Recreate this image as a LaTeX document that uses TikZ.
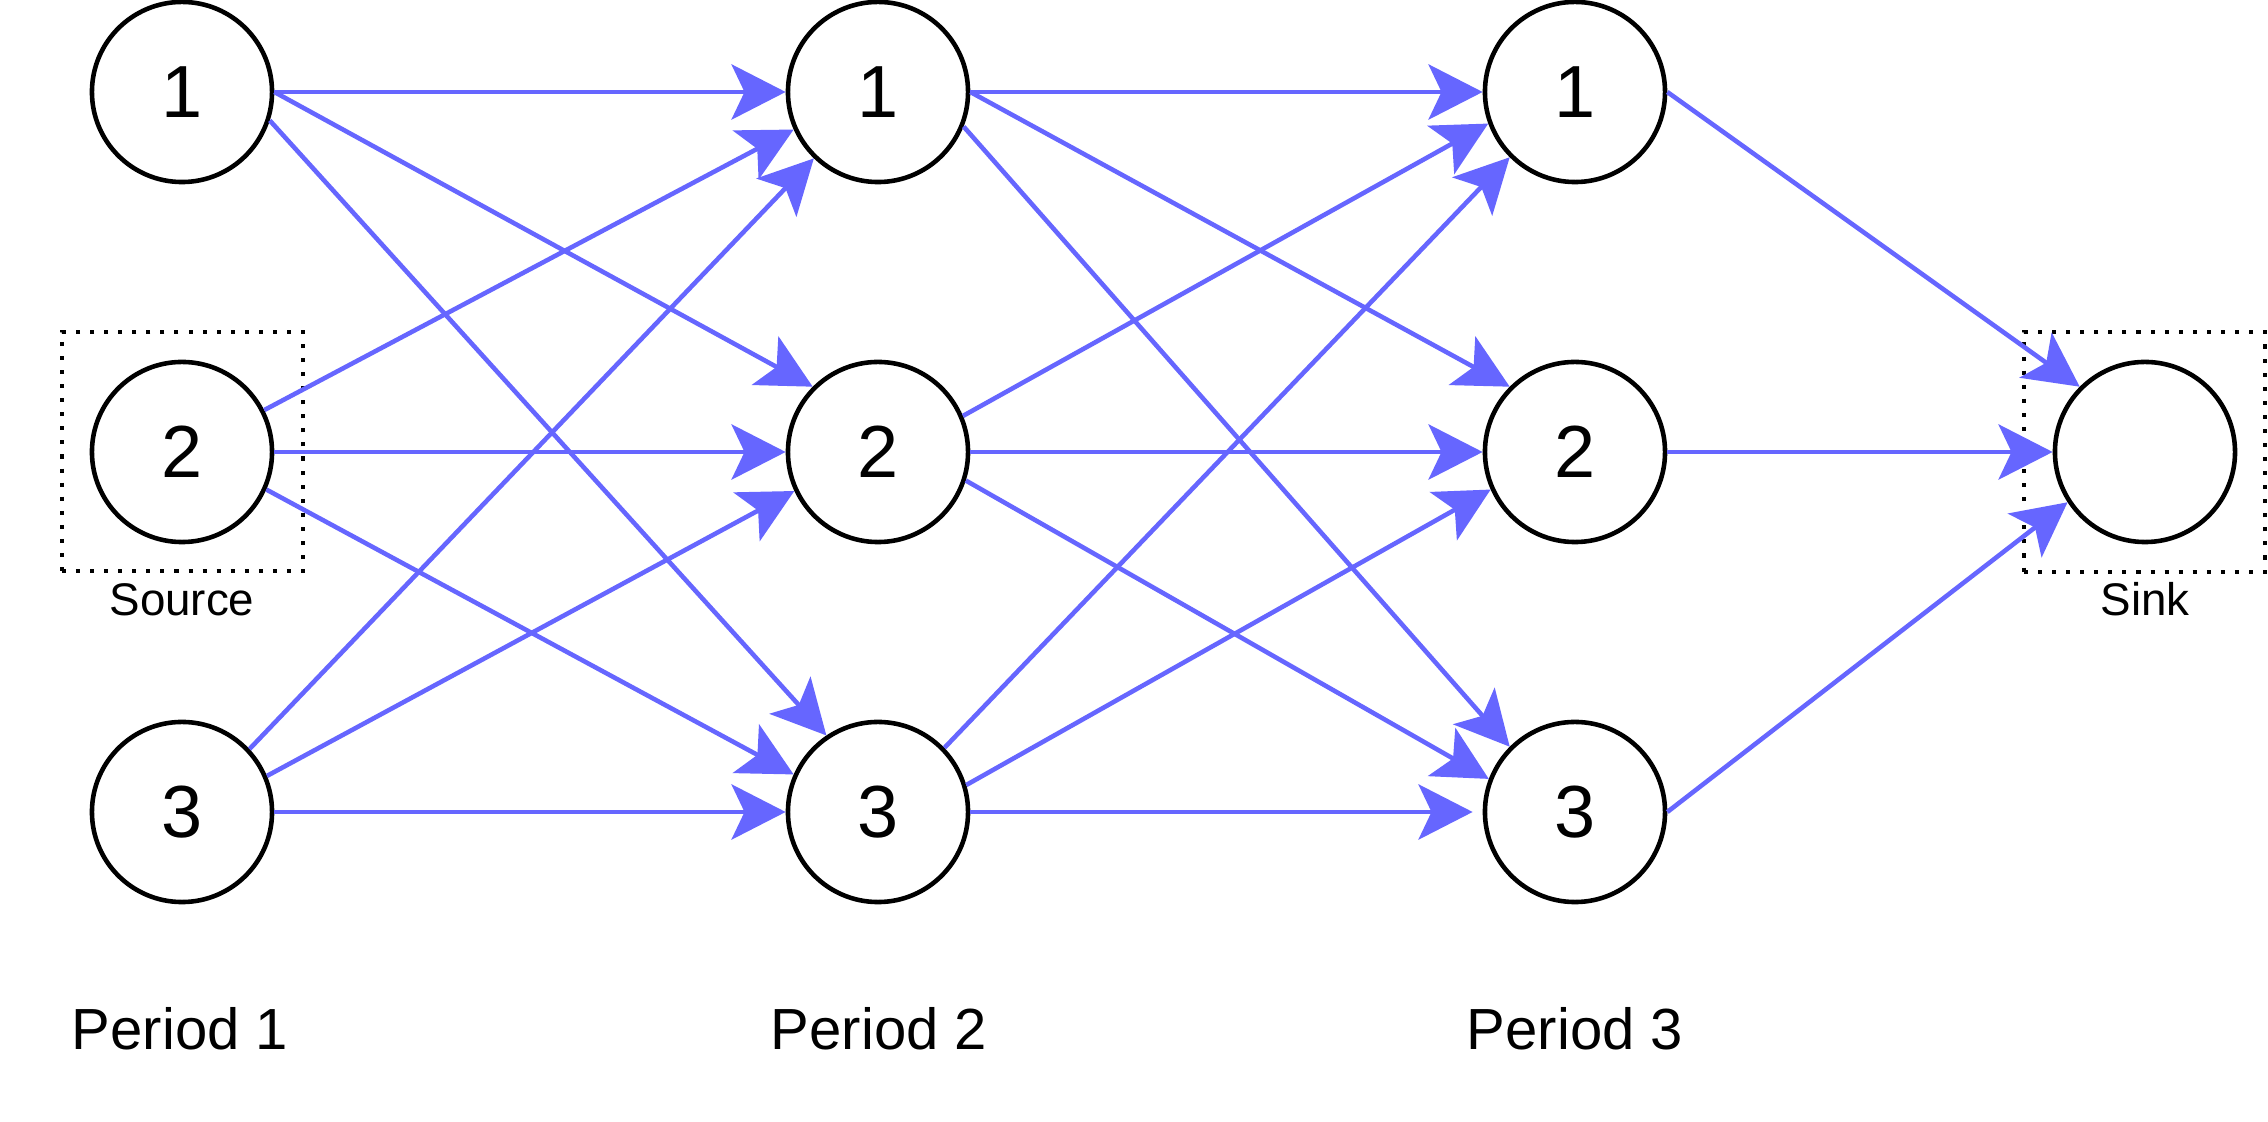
\documentclass[tikz,border=0pt]{standalone}
\usepackage{fontspec}
\setmainfont{Liberation Sans}
\usetikzlibrary{arrows.meta}
\definecolor{edgeblue}{RGB}{102,102,255}
\begin{document}
\begin{tikzpicture}[x=0.01cm,y=-0.01cm,
  state/.style={circle,draw=black,fill=white,line width=1.3pt,minimum size=1.8cm,inner sep=0pt,font=\fontsize{21}{25}\selectfont},
  flow/.style={draw=edgeblue,line width=1.3pt,-{Stealth[length=15.4pt,width=15.7pt,inset=3.7pt]}},
  groupbox/.style={draw=black,line width=1.15pt,dash pattern=on 1.15pt off 2.85pt,inner sep=0pt},
  caption/.style={font=\fontsize{13}{15}\selectfont,anchor=base,inner sep=0pt},
  period/.style={font=\fontsize{16.5}{19}\selectfont,anchor=base,inner sep=0pt}]
\useasboundingbox (0,0) rectangle (2268,1122);

% dotted group boxes
\node[groupbox,minimum width=2.41cm,minimum height=2.39cm] (srcbox) at (182.5,451.5) {};
\node[groupbox,minimum width=2.41cm,minimum height=2.39cm] (sinkbox) at (2144.5,452) {};

% nodes
\node[state] (a1) at (182,92) {1};
\node[state] (a2) at (182,452) {2};
\node[state] (a3) at (182,812) {3};
\node[state] (b1) at (878,92) {1};
\node[state] (b2) at (878,452) {2};
\node[state] (b3) at (878,812) {3};
\node[state] (c1) at (1575,92) {1};
\node[state] (c2) at (1575,452) {2};
\node[state] (c3) at (1575,812) {3};
\node[state] (sink) at (2145,452) {};

% labels
\node[caption] (srclabel) at (182,616) {Source};
\node[caption] (sinklabel) at (2145,616) {Sink};
\node[period] (p1) at (180,1050) {Period 1};
\node[period] (p2) at (879,1050) {Period 2};
\node[period] (p3) at (1575,1050) {Period 3};

% period 1 -> period 2
\draw[flow] (a1.east) -- (b1.west);
\draw[flow] (a1.east) -- (b2.135);
\draw[flow] (a1.-18) -- (b3.124);
\draw[flow] (a2.27) -- (b1.204);
\draw[flow] (a2.east) -- (b2.west);
\draw[flow] (a2.-24) -- (b3.156);
\draw[flow] (a3.43) -- (b1.226);
\draw[flow] (a3.23) -- (b2.205);
\draw[flow] (a3.east) -- (b3.west);

% period 2 -> period 3
\draw[flow] (b1.east) -- (c1.west);
\draw[flow] (b1.east) -- (c2.135);
\draw[flow] (b1.-22) -- (c3.135);
\draw[flow] (b2.23) -- (c1.200);
\draw[flow] (b2.east) -- (c2.west);
\draw[flow] (b2.-18) -- (c3.159);
\draw[flow] (b3.44) -- (c1.225);
\draw[flow] (b3.17) -- (c2.204);
\draw[flow,shorten >=0.1cm] (b3.east) -- (c3.west);

% period 3 -> sink
\draw[flow] (c1.east) -- (sink.135);
\draw[flow] (c2.east) -- (sink.west);
\draw[flow] (c3.east) -- (sink.213);
\end{tikzpicture}
\end{document}
